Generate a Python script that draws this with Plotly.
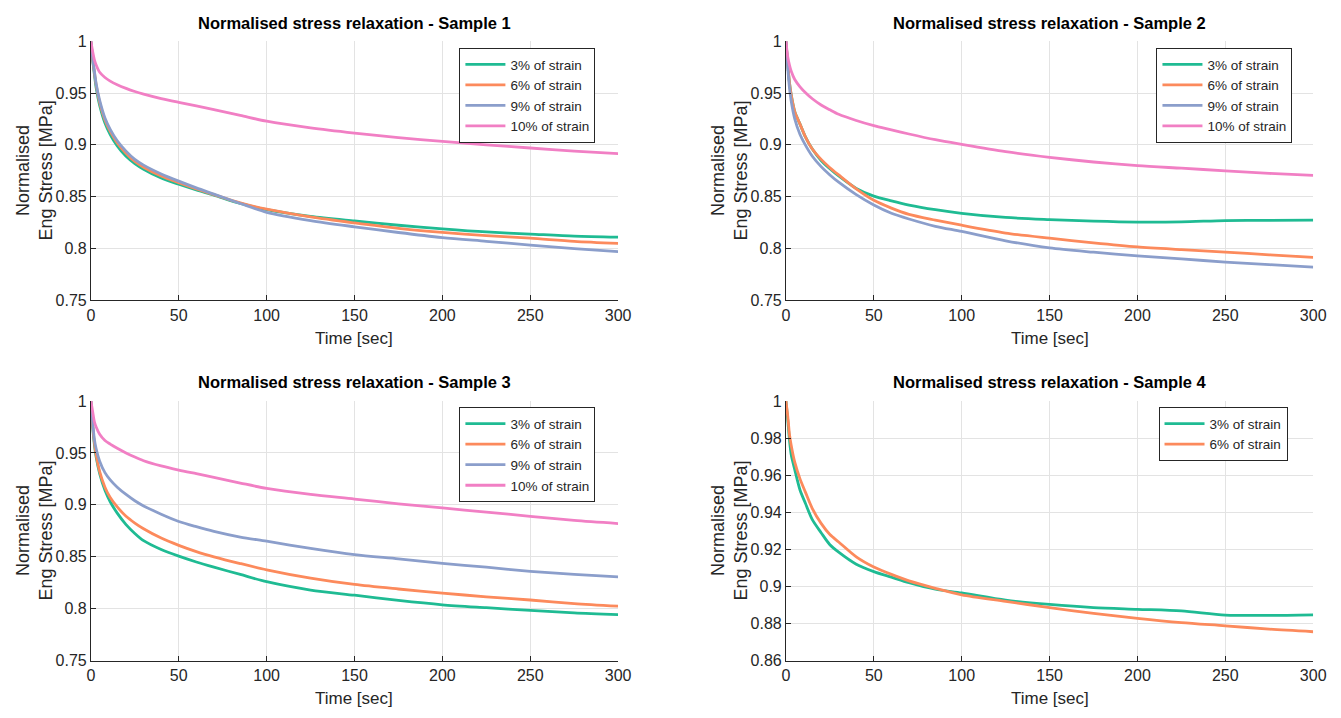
import plotly.graph_objects as go

# ---------------- data ----------------
time_s = [0, 1, 2, 3, 5, 8, 11, 15, 20, 25, 30, 40, 50, 60, 70, 85, 100, 125, 150, 175, 200, 225, 250, 275, 300]

s1_3 = [1.0, 0.982, 0.968, 0.955, 0.938, 0.921, 0.910, 0.899, 0.889, 0.882, 0.8765, 0.868, 0.862, 0.8565, 0.8515, 0.8435, 0.8375, 0.831, 0.8266, 0.8225, 0.819, 0.816, 0.814, 0.812, 0.811]
s1_6 = [1.0, 0.983, 0.970, 0.958, 0.941, 0.924, 0.913, 0.902, 0.892, 0.884, 0.8785, 0.870, 0.8635, 0.8575, 0.852, 0.844, 0.838, 0.8305, 0.8247, 0.8195, 0.8156, 0.8125, 0.810, 0.807, 0.805]
s1_9 = [1.0, 0.984, 0.971, 0.959, 0.943, 0.926, 0.915, 0.904, 0.894, 0.886, 0.8805, 0.872, 0.865, 0.8585, 0.8525, 0.8435, 0.835, 0.827, 0.821, 0.8155, 0.8106, 0.807, 0.8034, 0.800, 0.797]
s1_10 = [1.0, 0.990, 0.982, 0.977, 0.970, 0.965, 0.9615, 0.958, 0.9545, 0.9515, 0.949, 0.9447, 0.941, 0.9375, 0.934, 0.9285, 0.9228, 0.9163, 0.9113, 0.907, 0.9033, 0.900, 0.897, 0.894, 0.8915]

s2_3 = [1.0, 0.978, 0.960, 0.948, 0.932, 0.920, 0.908, 0.896, 0.885, 0.877, 0.870, 0.858, 0.8506, 0.846, 0.842, 0.8375, 0.834, 0.830, 0.828, 0.8265, 0.8256, 0.8258, 0.827, 0.8272, 0.8275]
s2_6 = [1.0, 0.978, 0.960, 0.948, 0.932, 0.920, 0.908, 0.896, 0.886, 0.878, 0.871, 0.8575, 0.8465, 0.839, 0.833, 0.8275, 0.8225, 0.815, 0.810, 0.8055, 0.8016, 0.799, 0.7966, 0.794, 0.7916]
s2_9 = [1.0, 0.975, 0.955, 0.942, 0.925, 0.910, 0.900, 0.889, 0.879, 0.871, 0.864, 0.852, 0.842, 0.834, 0.8285, 0.8215, 0.8165, 0.8075, 0.8006, 0.7965, 0.793, 0.790, 0.787, 0.7845, 0.782]
s2_10 = [1.0, 0.985, 0.977, 0.971, 0.963, 0.956, 0.9505, 0.9445, 0.9385, 0.9338, 0.9295, 0.9235, 0.9185, 0.9145, 0.9105, 0.905, 0.9005, 0.8935, 0.888, 0.8835, 0.880, 0.8775, 0.875, 0.8725, 0.8705]

s3_3 = [1.0, 0.975, 0.958, 0.946, 0.930, 0.914, 0.903, 0.892, 0.881, 0.8725, 0.8655, 0.857, 0.8506, 0.845, 0.840, 0.833, 0.826, 0.818, 0.813, 0.808, 0.8038, 0.801, 0.7984, 0.796, 0.7944]
s3_6 = [1.0, 0.977, 0.960, 0.948, 0.932, 0.917, 0.907, 0.898, 0.889, 0.8825, 0.877, 0.868, 0.861, 0.855, 0.850, 0.8435, 0.8375, 0.8295, 0.8234, 0.819, 0.815, 0.8115, 0.8084, 0.805, 0.8025]
s3_9 = [1.0, 0.980, 0.963, 0.954, 0.942, 0.931, 0.924, 0.917, 0.910, 0.904, 0.899, 0.891, 0.884, 0.879, 0.8745, 0.869, 0.865, 0.858, 0.852, 0.848, 0.8437, 0.840, 0.836, 0.833, 0.8306]
s3_10 = [1.0, 0.990, 0.980, 0.975, 0.968, 0.962, 0.9585, 0.9545, 0.950, 0.946, 0.9425, 0.9375, 0.9335, 0.930, 0.9265, 0.921, 0.9158, 0.910, 0.9056, 0.901, 0.897, 0.893, 0.889, 0.885, 0.882]

s4_3 = [1.0, 0.990, 0.979, 0.971, 0.963, 0.952, 0.945, 0.936, 0.929, 0.9225, 0.9185, 0.912, 0.908, 0.905, 0.902, 0.8985, 0.8965, 0.8926, 0.8903, 0.8886, 0.8877, 0.8868, 0.8846, 0.8844, 0.8847]
s4_6 = [1.0, 0.992, 0.982, 0.976, 0.967, 0.958, 0.951, 0.942, 0.934, 0.928, 0.924, 0.916, 0.9105, 0.9065, 0.903, 0.899, 0.8955, 0.892, 0.8886, 0.8855, 0.8828, 0.8805, 0.8788, 0.877, 0.8756]

series_names = ["3% of strain", "6% of strain", "9% of strain", "10% of strain"]
titles = ["Normalised stress relaxation - Sample 1", "Normalised stress relaxation - Sample 2",
          "Normalised stress relaxation - Sample 3", "Normalised stress relaxation - Sample 4"]
x_ticks = [0, 50, 100, 150, 200, 250, 300]
y_ticks_a = [0.75, 0.8, 0.85, 0.9, 0.95, 1]
y_ticks_a_text = ["0.75", "0.8", "0.85", "0.9", "0.95", "1"]
y_ticks_b = [0.86, 0.88, 0.9, 0.92, 0.94, 0.96, 0.98, 1]
y_ticks_b_text = ["0.86", "0.88", "0.9", "0.92", "0.94", "0.96", "0.98", "1"]

samples = [[s1_3, s1_6, s1_9, s1_10], [s2_3, s2_6, s2_9, s2_10], [s3_3, s3_6, s3_9, s3_10], [s4_3, s4_6]]

# ---------------- style ----------------
W, H = 1341, 718
colors = ["#1fbb93", "#fc8a5c", "#8b9ecb", "#f17fc4"]
FONT = "Liberation Sans, Arial, Helvetica, sans-serif"
AX = "#262626"
GRID = "#e3e3e3"

# pixel boxes of plot areas: (x0, x1, ytop, ybottom)
boxes = [(88, 622, 34, 299.5), (792, 1326, 34, 299.5), (88, 622, 402.5, 668.5), (792, 1326, 402.5, 668.5)]
legend_boxes = [(599, 41), (1305, 41), (599, 409), (1300, 409)]

fig = go.Figure()
legend_keys = ["legend", "legend2", "legend3", "legend4"]

for i, sample in enumerate(samples):
    xa = "x" if i == 0 else f"x{i+1}"
    ya = "y" if i == 0 else f"y{i+1}"
    for j, vals in enumerate(sample):
        fig.add_trace(go.Scatter(
            x=time_s, y=vals, mode="lines", name=series_names[j],
            line=dict(color=colors[j], width=2.8, shape="spline", smoothing=0.8),
            xaxis=xa, yaxis=ya, legend=legend_keys[i], showlegend=True,
        ))

layout = dict(
    autosize=True, margin=dict(l=0, r=0, t=0, b=0, pad=0),
    paper_bgcolor="white", plot_bgcolor="white",
    font=dict(family=FONT, color=AX, size=16),
    annotations=[],
)

for i, (x0, x1, yt, yb) in enumerate(boxes):
    suf = "" if i == 0 else str(i + 1)
    xd = [x0 / W, x1 / W]
    yd = [1 - yb / H, 1 - yt / H]
    if i == 3:
        yr, tv, tt = [0.86, 1.0], y_ticks_b, y_ticks_b_text
    else:
        yr, tv, tt = [0.75, 1.0], y_ticks_a, y_ticks_a_text
    layout["xaxis" + suf] = dict(
        domain=xd, range=[0, 300], tickvals=x_ticks, showgrid=True, gridcolor=GRID, gridwidth=1,
        showline=True, linecolor=AX, linewidth=1, ticks="inside", ticklen=5, tickcolor=AX,
        zeroline=False, anchor="y" + suf, tickfont=dict(size=16, color=AX, family=FONT),
        mirror=False,
    )
    layout["yaxis" + suf] = dict(
        domain=yd, range=yr, tickvals=tv, ticktext=tt, showgrid=True, gridcolor=GRID, gridwidth=1,
        showline=True, linecolor=AX, linewidth=1, ticks="inside", ticklen=5, tickcolor=AX,
        zeroline=False, anchor="x" + suf, tickfont=dict(size=16, color=AX, family=FONT),
    )
    cx = (x0 + x1) / 2 / W
    layout["annotations"].append(dict(
        text="<b>" + titles[i] + "</b>", x=cx, y=1 - (yt - 19) / H, xref="paper", yref="paper",
        xanchor="center", yanchor="middle", showarrow=False,
        font=dict(size=16.5, color="black", family=FONT)))
    layout["annotations"].append(dict(
        text="Time [sec]", x=cx, y=1 - (yb + 39) / H, xref="paper", yref="paper",
        xanchor="center", yanchor="middle", showarrow=False,
        font=dict(size=17, color=AX, family=FONT)))
    layout["annotations"].append(dict(
        text="Normalised<br>Eng Stress [MPa]", x=(x0 - 57) / W, y=1 - (yt + yb) / 2 / H,
        xref="paper", yref="paper", xanchor="center", yanchor="middle", showarrow=False,
        textangle=-90, font=dict(size=18, color=AX, family=FONT)))
    lx, ly = legend_boxes[i]
    layout[legend_keys[i]] = dict(
        x=lx / W, y=1 - ly / H, xanchor="right", yanchor="top", xref="paper", yref="paper",
        bgcolor="white", bordercolor=AX, borderwidth=1,
        font=dict(size=13.5, color=AX, family=FONT), tracegroupgap=0, itemwidth=40,
    )

fig.update_layout(**layout)
fig.write_html(
    "out.html",
    config={"displayModeBar": False, "responsive": True},
    default_width="100vw", default_height="100vh",
    post_script="document.documentElement.style.overflow='hidden';document.body.style.margin='0';document.body.style.overflow='hidden';",
)
